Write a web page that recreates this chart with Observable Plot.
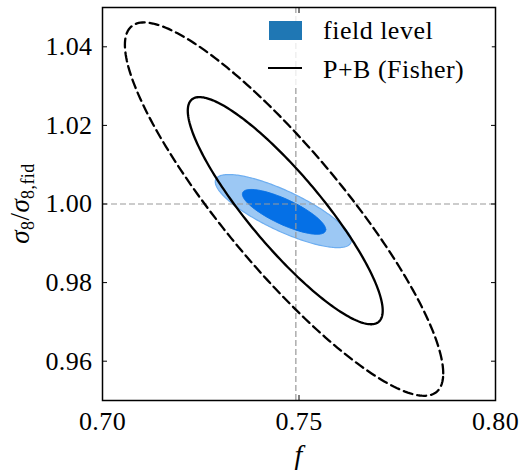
<!DOCTYPE html>
<html>
<head>
<meta charset="utf-8">
<script src="https://cdn.jsdelivr.net/npm/d3@7"></script>
<script src="https://cdn.jsdelivr.net/npm/@observablehq/plot@0.6"></script>
<style>
  html, body { margin: 0; padding: 0; background: white; }
  #chart { width: 520px; height: 475px; }
</style>
</head>
<body>
<div id="chart"></div>
<script>
// ---- data ----
const xTicks = [0.70, 0.75, 0.80];
const yTicks = [0.96, 0.98, 1.00, 1.02, 1.04];
const xDomain = [0.70, 0.80];
const yDomain = [0.95, 1.05];
const fiducialF = 0.7492;
const fiducialSigma8 = 1.00;

// contour ellipses: centre, half-extent along f and sigma8, correlation
const contourNames = ["fisher95", "fisher68", "field95", "field68"];
const centerF = [0.7462, 0.7465, 0.7460, 0.7462];
const centerS = [0.9987, 0.9983, 0.9982, 0.9980];
const halfF = [0.0405, 0.0248, 0.0173, 0.0106];
const halfS = [0.0475, 0.0289, 0.0093, 0.0057];
const corr = [-0.88, -0.88, -0.80, -0.79];

const legendLabels = ["field level", "P+B (Fisher)"];

// ---- build ellipse outlines from the parameters ----
function outline(i) {
  const pts = [];
  const n = 240;
  const r = corr[i], q = Math.sqrt(1 - r * r);
  for (let k = 0; k <= n; k++) {
    const t = (2 * Math.PI * k) / n;
    pts.push({
      f: centerF[i] + halfF[i] * Math.cos(t),
      s: centerS[i] + halfS[i] * (r * Math.cos(t) + q * Math.sin(t))
    });
  }
  return pts;
}
const ell = Object.fromEntries(contourNames.map((n, i) => [n, outline(i)]));

const font = "Liberation Serif";

const plot = Plot.plot({
  width: 520,
  height: 475,
  marginLeft: 102,
  marginRight: 25,
  marginTop: 7,
  marginBottom: 75,
  style: { fontFamily: font, fontSize: "26px", background: "white", color: "black", letterSpacing: "0.4px" },
  x: { domain: xDomain, label: null },
  y: { domain: yDomain, label: null },
  marks: [
    Plot.line(ell.field95, { x: "f", y: "s", fill: "#9cc8f4", stroke: "#6eaef0", strokeWidth: 1.2 }),
    Plot.line(ell.field68, { x: "f", y: "s", fill: "#0570e6", stroke: "#0570e6", strokeWidth: 1 }),
    Plot.ruleX([fiducialF], { stroke: "#999", strokeWidth: 1.2, strokeDasharray: "6,3" }),
    Plot.ruleY([fiducialSigma8], { stroke: "#999", strokeWidth: 1.2, strokeDasharray: "6,3" }),
    Plot.line(ell.fisher68, { x: "f", y: "s", stroke: "black", strokeWidth: 2.3 }),
    Plot.line(ell.fisher95, { x: "f", y: "s", stroke: "black", strokeWidth: 2.3, strokeDasharray: "9,5" }),
    Plot.frame({ stroke: "black", strokeWidth: 1.5 }),
    Plot.axisX({ anchor: "bottom", ticks: xTicks, tickSize: -5, tickPadding: 16, tickFormat: d3.format(".2f"), label: null, fontSize: 26 }),
    Plot.axisX({ anchor: "top", ticks: xTicks, tickSize: -5, tickFormat: () => "", label: null }),
    Plot.axisY({ anchor: "left", ticks: yTicks, tickSize: -5, tickPadding: 15, tickFormat: d3.format(".2f"), label: null, fontSize: 26 }),
    Plot.axisY({ anchor: "right", ticks: yTicks, tickSize: -5, tickFormat: () => "", label: null })
  ]
});

document.getElementById("chart").appendChild(plot);

// ---- axis titles and legend ----
const svg = d3.select(plot);
const xs = plot.scale("x"), ys = plot.scale("y");
const midX = (xs.range[0] + xs.range[1]) / 2;
const midY = (ys.range[0] + ys.range[1]) / 2;

svg.append("text")
  .attr("x", midX).attr("y", 464)
  .attr("text-anchor", "middle")
  .attr("font-family", font).attr("font-size", 28).attr("font-style", "italic")
  .attr("fill", "black")
  .text("f");

const yl = svg.append("text")
  .attr("transform", `translate(29,${midY}) rotate(-90)`)
  .attr("text-anchor", "middle")
  .attr("font-family", font).attr("font-size", 27)
  .attr("fill", "black");
yl.append("tspan").attr("font-style", "italic").text("σ");
yl.append("tspan").attr("font-size", 18).attr("dy", 5).text("8");
yl.append("tspan").attr("dy", -5).text("/");
yl.append("tspan").attr("font-style", "italic").text("σ");
yl.append("tspan").attr("font-size", 18).attr("dy", 5).text("8,fid");

const lg = svg.append("g").attr("font-family", font).attr("font-size", 26)
  .attr("letter-spacing", "0.5px").attr("text-anchor", "start");
lg.append("rect").attr("x", 262).attr("y", 13).attr("width", 230).attr("height", 72)
  .attr("fill", "white").attr("fill-opacity", 0.8);
lg.append("rect").attr("x", 269).attr("y", 21).attr("width", 33).attr("height", 19).attr("fill", "#1f77b4");
lg.append("line").attr("x1", 268).attr("x2", 302).attr("y1", 68).attr("y2", 68)
  .attr("stroke", "black").attr("stroke-width", 2.2);
lg.append("text").attr("x", 323).attr("y", 39).attr("fill", "black").attr("text-anchor", "start").text(legendLabels[0]);
lg.append("text").attr("x", 323).attr("y", 78).attr("fill", "black").attr("text-anchor", "start").text(legendLabels[1]);
</script>
</body>
</html>
